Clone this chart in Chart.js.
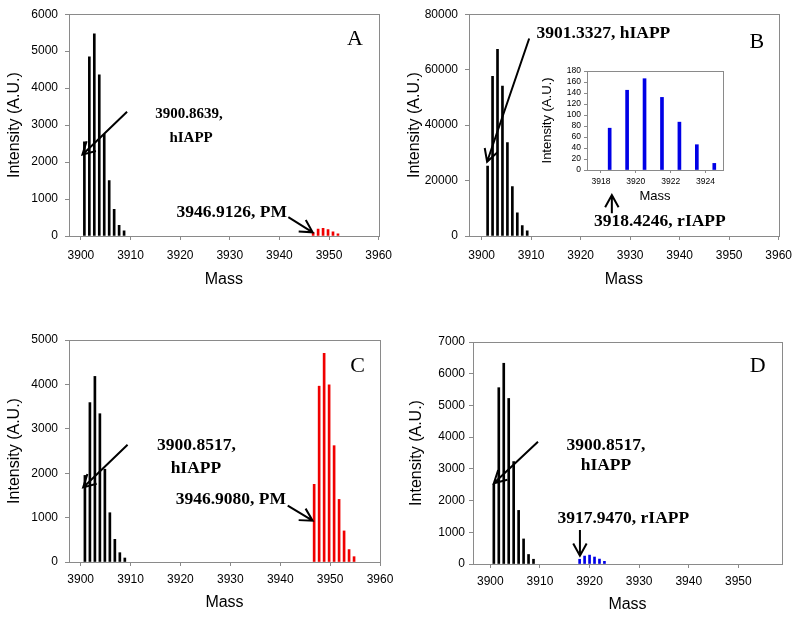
<!DOCTYPE html>
<html>
<head>
<meta charset="utf-8">
<script src="https://cdn.jsdelivr.net/npm/chart.js@4.4.0/dist/chart.umd.min.js"></script>
<style>
  body { margin: 0; background: #fff; width: 800px; height: 618px; position: relative; overflow: hidden; }
  canvas { position: absolute; }
</style>
</head>
<body>
<canvas id="panelA" width="400" height="309" style="left:0;top:0"></canvas>
<canvas id="panelB" width="400" height="309" style="left:400px;top:0"></canvas>
<canvas id="inset" width="215" height="145" style="left:520px;top:60px"></canvas>
<canvas id="panelC" width="400" height="309" style="left:0;top:309px"></canvas>
<canvas id="panelD" width="400" height="309" style="left:400px;top:309px"></canvas>
<script>
// peak masses and intensities
const massA_h = [3900.7, 3901.7, 3902.7, 3903.7, 3904.7, 3905.7, 3906.7, 3907.7, 3908.7]
const intA_h = [2550, 4850, 5470, 4360, 2750, 1500, 720, 290, 140]
const massA_pm = [3946.8, 3947.8, 3948.8, 3949.8, 3950.8, 3951.8]
const intA_pm = [100, 185, 210, 175, 110, 60]

const massB_h = [3901.2, 3902.2, 3903.2, 3904.2, 3905.2, 3906.2, 3907.2, 3908.2, 3909.2]
const intB_h = [25200, 57600, 67300, 54100, 33700, 17800, 8400, 3800, 1900]
const massB_r = [3918.5, 3919.5, 3920.5, 3921.5, 3922.5, 3923.5, 3924.5]
const intB_r = [76, 145, 166, 132, 87, 46, 12]

const massC_h = [3900.85, 3901.85, 3902.85, 3903.85, 3904.85, 3905.85, 3906.85, 3907.85, 3908.85]
const intC_h = [1950, 3590, 4180, 3340, 2090, 1110, 510, 210, 90]
const massC_pm = [3946.8, 3947.8, 3948.8, 3949.8, 3950.8, 3951.8, 3952.8, 3953.8, 3954.8]
const intC_pm = [1750, 3960, 4700, 3990, 2620, 1410, 700, 280, 120]

const massD_h = [3900.7, 3901.7, 3902.7, 3903.7, 3904.7, 3905.7, 3906.7, 3907.7, 3908.7]
const intD_h = [2520, 5560, 6330, 5220, 3230, 1690, 790, 300, 150]
const massD_r = [3918, 3919, 3920, 3921, 3922, 3923]
const intD_r = [150, 250, 280, 220, 155, 85]

const massTicks = [3900, 3910, 3920, 3930, 3940, 3950, 3960]
const massTicksD = [3900, 3910, 3920, 3930, 3940, 3950]
const insetTicks = [3918, 3920, 3922, 3924]

const gray = '#8a8a8a'
const sans = 'Liberation Sans'
const serif = 'Liberation Serif'

// frame, arrows and peak labels, placed in data units
const notes = {
  id: 'notes',
  afterDraw(chart, args, o) {
    const { ctx, chartArea: a, scales: { x, y } } = chart
    const px = p => [x.getPixelForValue(p[0]), y.getPixelForValue(p[1])]
    ctx.save()
    ctx.strokeStyle = gray
    ctx.lineWidth = 1
    ctx.strokeRect(Math.round(a.left) + 0.5, Math.round(a.top) + 0.5, Math.round(a.width), Math.round(a.height))

    ctx.strokeStyle = '#000'
    ctx.lineWidth = 2
    ;(o.arrows || []).forEach(ar => {
      const [x1, y1] = px(ar.from)
      const [x2, y2] = px(ar.to)
      const ang = Math.atan2(y1 - y2, x1 - x2)
      const len = 14, spread = 0.5
      ctx.beginPath()
      ctx.moveTo(x1, y1); ctx.lineTo(x2, y2)
      ctx.moveTo(x2 + len * Math.cos(ang - spread), y2 + len * Math.sin(ang - spread))
      ctx.lineTo(x2, y2)
      ctx.lineTo(x2 + len * Math.cos(ang + spread), y2 + len * Math.sin(ang + spread))
      ctx.stroke()
    })

    ctx.fillStyle = '#000'
    ctx.textAlign = 'center'
    ctx.textBaseline = 'middle'
    ;(o.texts || []).forEach(t => {
      ctx.font = `bold ${t.size || o.size || 16}px "${serif}"`
      const [tx, ty] = px(t.at)
      ctx.fillText(t.text, tx, ty)
    })
    if (o.letter) {
      ctx.font = `22px "${serif}"`
      const [lx, ly] = px(o.letter.at)
      ctx.fillText(o.letter.text, lx, ly)
    }
    ctx.restore()
  }
}

const plain = v => String(v)

function panel(id, p) {
  return new Chart(document.getElementById(id), {
    type: 'bar',
    data: {
      datasets: p.sets.map(s => ({
        data: s.mass.map((m, i) => ({ x: m, y: s.vals[i] })),
        backgroundColor: s.color,
        barThickness: p.bar || 2,
        grouped: false
      }))
    },
    options: {
      responsive: false,
      animation: false,
      layout: { padding: p.pad },
      plugins: {
        legend: { display: false },
        tooltip: { enabled: false },
        notes: p.notes || {}
      },
      scales: {
        x: {
          type: 'linear',
          offset: false,
          min: p.xmin,
          max: p.xmax,
          afterBuildTicks: s => { s.ticks = p.xticks.map(v => ({ value: v })) },
          afterFit: s => { s.height = p.xh },
          grid: { offset: false, drawOnChartArea: false, tickLength: p.tl || 4, color: gray },
          border: { color: gray },
          ticks: { font: { family: sans, size: p.fs }, color: '#000', padding: p.xtp, maxRotation: 0, autoSkip: false, callback: plain },
          title: { display: true, text: 'Mass', color: '#000', font: { family: sans, size: p.ts }, padding: { top: 0, bottom: p.xtb } }
        },
        y: {
          min: 0,
          max: p.ymax,
          afterFit: s => { s.width = p.yw },
          grid: { drawOnChartArea: false, tickLength: p.tl || 4, color: gray },
          border: { color: gray },
          ticks: { stepSize: p.ystep, font: { family: sans, size: p.fs }, color: '#000', padding: p.ytp, autoSkip: false, callback: plain },
          title: { display: true, text: 'Intensity (A.U.)', color: '#000', font: { family: sans, size: p.ts }, padding: { top: p.ytt, bottom: 0 } }
        }
      }
    },
    plugins: [notes]
  })
}

panel('panelA', {
  sets: [{ mass: massA_h, vals: intA_h, color: '#000' }, { mass: massA_pm, vals: intA_pm, color: '#f00000' }],
  xmin: 3897.6, xmax: 3960, xticks: massTicks, ymax: 6000, ystep: 1000,
  pad: { left: 0, right: 20, top: 13, bottom: 0 }, xh: 73, yw: 69,
  fs: 12, ts: 16, xtp: 8, xtb: 20, ytp: 7, ytt: 5,
  notes: {
    size: 15,
    arrows: [{ from: [3909.3, 3360], to: [3900.3, 2200] }, { from: [3941.8, 510], to: [3946.7, 100] }],
    texts: [{ at: [3921.8, 3310], text: '3900.8639,' }, { at: [3922.2, 2660], text: 'hIAPP' }, { at: [3930.4, 646], text: '3946.9126, PM', size: 17.5 }],
    letter: { at: [3955.2, 5330], text: 'A' }
  }
})

panel('panelB', {
  sets: [{ mass: massB_h, vals: intB_h, color: '#000' }],
  xmin: 3897.44, xmax: 3960, xticks: massTicks, ymax: 80000, ystep: 20000,
  pad: { left: 0, right: 21, top: 14, bottom: 0 }, xh: 73, yw: 69,
  fs: 12, ts: 16, xtp: 8, xtb: 20, ytp: 7, ytt: 5,
  notes: {
    size: 17.5,
    arrows: [{ from: [3909.6, 71240], to: [3901.1, 26770] }, { from: [3926.3, 8180], to: [3926.3, 14775] }],
    texts: [{ at: [3924.6, 73050], text: '3901.3327, hIAPP' }, { at: [3936.0, 5150], text: '3918.4246, rIAPP' }],
    letter: { at: [3955.6, 70020], text: 'B' }
  }
})

panel('inset', {
  sets: [{ mass: massB_r, vals: intB_r, color: '#0000e6' }],
  bar: 3, tl: 3,
  xmin: 3917.2, xmax: 3925, xticks: insetTicks, ymax: 180, ystep: 20,
  pad: { left: 0, right: 12, top: 11, bottom: 0 }, xh: 35, yw: 67,
  fs: 8.5, ts: 13, xtp: 4, xtb: 1, ytp: 3, ytt: 20
})

panel('panelC', {
  sets: [{ mass: massC_h, vals: intC_h, color: '#000' }, { mass: massC_pm, vals: intC_pm, color: '#f00000' }],
  xmin: 3897.66, xmax: 3960, xticks: massTicks, ymax: 5000, ystep: 1000,
  pad: { left: 0, right: 20, top: 31, bottom: 0 }, xh: 56, yw: 69,
  fs: 12, ts: 16, xtp: 6, xtb: 6, ytp: 7, ytt: 5,
  notes: {
    size: 17.5,
    arrows: [{ from: [3909.4, 2640], to: [3900.5, 1680] }, { from: [3941.5, 1268], to: [3946.5, 930] }],
    texts: [{ at: [3923.2, 2620], text: '3900.8517,' }, { at: [3923.1, 2110], text: 'hIAPP' }, { at: [3930.1, 1403], text: '3946.9080, PM' }],
    letter: { at: [3955.5, 4420], text: 'C' }
  }
})

panel('panelD', {
  sets: [{ mass: massD_h, vals: intD_h, color: '#000' }, { mass: massD_r, vals: intD_r, color: '#0000e6' }],
  xmin: 3896.5, xmax: 3958.8, xticks: massTicksD, ymax: 7000, ystep: 1000,
  pad: { left: 0, right: 18, top: 33, bottom: 0 }, xh: 54, yw: 73,
  fs: 12, ts: 16, xtp: 6, xtb: 4, ytp: 4, ytt: 7,
  notes: {
    size: 17.5,
    arrows: [{ from: [3909.6, 3857], to: [3900.7, 2545] }, { from: [3918.06, 1072], to: [3918.06, 262] }],
    texts: [{ at: [3923.3, 3731], text: '3900.8517,' }, { at: [3923.3, 3122], text: 'hIAPP' }, { at: [3926.8, 1441], text: '3917.9470, rIAPP' }],
    letter: { at: [3953.9, 6235], text: 'D' }
  }
})
</script>
</body>
</html>
